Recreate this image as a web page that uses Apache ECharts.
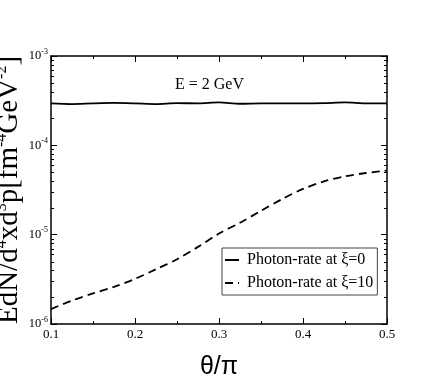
<!DOCTYPE html>
<html lang="en">
  <head>
    <meta charset="UTF-8" />
    <title>photon rate</title>
    <style>
      html, body { margin: 0; padding: 0; background: #fff; }
      #main { width: 436px; height: 382px; }
    </style>
  </head>
  <body>
    <div id="main"></div>
    <script src="https://cdn.jsdelivr.net/npm/echarts@6/dist/echarts.min.js"></script>
    <script>
      const myChart = echarts.init(document.getElementById('main'))
      // theta / pi
      var theta = [0.1, 0.125, 0.15, 0.175, 0.2, 0.225, 0.25, 0.275, 0.3, 0.325, 0.35, 0.375, 0.4, 0.425, 0.45, 0.475, 0.5]
      // xi = 0
      var rate0 = [2.95e-4, 2.9e-4, 2.95e-4, 2.98e-4, 2.95e-4, 2.9e-4, 2.97e-4, 2.95e-4, 3.02e-4, 2.92e-4, 2.95e-4, 2.95e-4, 2.95e-4, 2.97e-4, 3.02e-4, 2.95e-4, 2.95e-4]
      // xi = 10
      var rate10 = [1.47e-6, 1.83e-6, 2.2e-6, 2.6e-6, 3.2e-6, 4.1e-6, 5.3e-6, 7.3e-6, 1.03e-5, 1.36e-5, 1.85e-5, 2.5e-5, 3.25e-5, 3.95e-5, 4.5e-5, 4.9e-5, 5.2e-5]
      var yMinorTicks = []
      for (let d = -6; d < -3; d++) {
        for (let k = 2; k <= 9; k++) yMinorTicks.push(k * Math.pow(10, d))
      }

      var serif = 'Liberation Serif'
      var supRich = {
        b: { fontFamily: serif, fontSize: 12.5, color: '#000' },
        s: { fontFamily: serif, fontSize: 8, color: '#000', padding: [0, 0, 9, 0] }
      }

      option = {
        backgroundColor: '#fff',
        animation: false,
        grid: { left: 51, right: 49, top: 56, bottom: 58, containLabel: false, outerBoundsMode: 'none' },
        graphic: [
          {
            type: 'text',
            left: 175,
            top: 77,
            style: { text: 'E = 2 GeV', font: '16px "Liberation Serif"', fill: '#000' }
          }
        ],
        legend: {
          orient: 'vertical',
          left: 222,
          top: 248,
          padding: [4, 4, 4, 2],
          itemGap: 7,
          itemWidth: 14,
          itemHeight: 12,
          borderColor: '#444',
          borderWidth: 1,
          itemStyle: { opacity: 0 },
          textStyle: { fontFamily: serif, fontSize: 16, color: '#000', padding: [0, 0, 0, 3] },
          data: ['Photon-rate at ξ=0', 'Photon-rate at ξ=10']
        },
        xAxis: [
          {
            type: 'value',
            min: 0.1,
            max: 0.5,
            interval: 0.1,
            name: 'θ/π',
            nameLocation: 'middle',
            nameGap: 31,
            nameTextStyle: { fontFamily: 'Liberation Sans', fontSize: 25, color: '#000' },
            axisLine: { lineStyle: { color: '#000', width: 1.5 } },
            axisTick: { inside: true, length: 6, lineStyle: { color: '#000' } },
            minorTick: { show: true, splitNumber: 2, length: 3, lineStyle: { color: '#000' } },
            splitLine: { show: false },
            axisLabel: {
              margin: 4,
              fontFamily: serif,
              fontSize: 13,
              color: '#000',
              formatter: function (v) { return v.toFixed(1) }
            }
          },
          {
            type: 'value',
            position: 'top',
            min: 0.1,
            max: 0.5,
            interval: 0.1,
            axisLine: { lineStyle: { color: '#000', width: 1.5 } },
            axisTick: { inside: true, length: 6, lineStyle: { color: '#000' } },
            minorTick: { show: true, splitNumber: 2, length: 3, lineStyle: { color: '#000' } },
            splitLine: { show: false },
            axisLabel: { show: false }
          }
        ],
        yAxis: [
          {
            type: 'log',
            min: 1e-6,
            max: 1e-3,
            logBase: 10,
            name: '{a|EdN/d}{s|4}{a|xd}{s|3}{a|p[fm}{s|-4}{a|GeV}{s|-2}{a|]}',
            nameLocation: 'middle',
            nameRotate: 90,
            nameGap: 26,
            nameMoveOverlap: false,
            nameTextStyle: {
              rich: {
                a: { fontFamily: serif, fontSize: 29, color: '#000' },
                s: { fontFamily: serif, fontSize: 16, color: '#000', padding: [0, 0, 15, 0] }
              }
            },
            axisLine: { lineStyle: { color: '#000', width: 1.5 } },
            axisTick: { inside: true, length: 6, lineStyle: { color: '#000' } },
            splitLine: { show: false },
            axisLabel: {
              margin: 3,
              formatter: function (v) {
                return '{b|10}{s|' + Math.round(Math.log10(v)) + '}'
              },
              rich: supRich
            }
          },
          {
            type: 'log',
            position: 'right',
            min: 1e-6,
            max: 1e-3,
            logBase: 10,
            axisLine: { lineStyle: { color: '#000', width: 1.5 } },
            axisTick: { inside: true, length: 6, lineStyle: { color: '#000' } },
            splitLine: { show: false },
            axisLabel: { show: false }
          }
        ],
        series: [
          {
            name: 'Photon-rate at ξ=0',
            type: 'line',
            data: theta.map((t, i) => [t, rate0[i]]),
            smooth: 0.3,
            symbol: 'none',
            lineStyle: { color: '#000', width: 1.8 },
            itemStyle: { color: '#000' }
          },
          {
            name: 'Photon-rate at ξ=10',
            type: 'line',
            data: theta.map((t, i) => [t, rate10[i]]),
            smooth: 0.3,
            symbol: 'none',
            lineStyle: { color: '#000', width: 1.8, type: [8, 5] },
            itemStyle: { color: '#000' }
          },
          {
            // log minor ticks, left and right
            type: 'custom',
            silent: true,
            clip: false,
            data: yMinorTicks.map((v) => [0.1, v]),
            renderItem: function (params, api) {
              var cs = params.coordSys
              var p = api.coord([0.1, api.value(1)])
              var y = Math.round(p[1]) + 0.5
              return {
                type: 'group',
                children: [
                  { type: 'line', shape: { x1: cs.x, y1: y, x2: cs.x + 3, y2: y }, style: { stroke: '#000', lineWidth: 1 } },
                  { type: 'line', shape: { x1: cs.x + cs.width - 3, y1: y, x2: cs.x + cs.width, y2: y }, style: { stroke: '#000', lineWidth: 1 } }
                ]
              }
            }
          }
        ]
      }

      myChart.setOption(option)
    </script>
  </body>
</html>
